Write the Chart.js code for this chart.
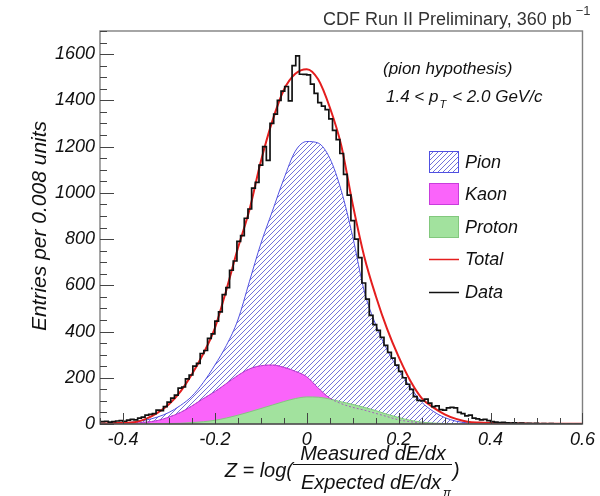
<!DOCTYPE html>
<html><head><meta charset="utf-8">
<script src="https://cdn.jsdelivr.net/npm/chart.js@4.4.0/dist/chart.umd.min.js"></script>
<style>html,body{margin:0;padding:0;background:#fff;}</style>
</head><body>
<canvas id="c" width="600" height="496"></canvas>
<script>
// ---- model curves (sampled every 0.025 in Z) ----
const modelX = [-0.45,-0.425,-0.4,-0.375,-0.35,-0.325,-0.3,-0.275,-0.25,-0.225,-0.2,-0.175,-0.15,-0.125,-0.1,-0.075,-0.05,-0.025,0,0.025,0.05,0.075,0.1,0.125,0.15,0.175,0.2,0.225,0.25,0.275,0.3,0.325,0.35,0.375,0.4,0.425,0.45,0.475,0.5,0.525,0.55,0.575,0.6];
const pionCurve = [1,2,4,9,17,30,50,80,120,180,255,340,450,615,780,920,1060,1180,1222,1215,1150,1010,810,575,430,320,235,160,95,55,28,12,5,2,1,0,0,0,0,0,0,0,0];
const kaonCurve = [0,1,2,4,8,15,30,50,78,110,140,175,210,238,252,255,245,228,204,155,112,88,72,60,46,32,18,10,4,1,0,0,0,0,0,0,0,0,0,0,0,0,0];
const protonCurve = [0,0,0,0,0,1,2,3,6,10,16,26,38,52,67,82,97,110,117,116,108,96,85,72,58,42,28,16,8,4,2,1,0,0,0,0,0,0,0,0,0,0,0];
const totalCurve = [2,3,5,8,22,48,85,140,215,305,415,580,760,925,1135,1310,1445,1515,1535,1490,1370,1205,950,725,555,410,290,188,112,72,42,22,10,6,4,3,2,2,1,1,1,1,1];

// ---- data histogram (bin width 0.008) ----
const binStart = -0.448;
const binWidth = 0.008;
const dataCounts = [
 10,12,8,10,13,15,12,17,20,18,
 25,30,38,42,45,60,58,75,95,112,
 125,155,160,195,212,250,262,305,318,370,
 390,445,485,560,590,665,705,790,815,890,
 930,1020,1045,1120,1200,1140,1300,1340,1400,1440,
 1460,1398,1550,1592,1513,1512,1510,1470,1430,1390,
 1375,1360,1320,1270,1230,1170,1080,990,880,800,
 720,610,540,470,430,405,375,340,310,285,
 255,228,200,172,150,118,102,100,108,90,
 75,78,62,60,70,72,70,50,45,35,
 38,25,22,18,20,15,10,8,6,7,
 5,4,5,3,4,2,3,2,3,1,
 2,1,2,1,1,1,0,1,0,1,0];

// ---- axes ----
const xTickValues = [-0.4,-0.2,0,0.2,0.4,0.6];
const yTickValues = [0,200,400,600,800,1000,1200,1400,1600];
const xMinorStep = 0.05;
const yMinorStep = 50;
const legendNames = ['Pion','Kaon','Proton','Total','Data'];

const FONT = '"Liberation Sans", Arial, Helvetica, sans-serif';

function hatchPattern(){
  const s = 5, c = document.createElement('canvas');
  c.width = s; c.height = s;
  const g = c.getContext('2d');
  g.fillStyle = '#ffffff'; g.fillRect(0,0,s,s);
  g.strokeStyle = 'rgba(70,70,205,0.85)'; g.lineWidth = 0.9;
  g.beginPath();
  g.moveTo(0,s); g.lineTo(s,0);
  g.moveTo(-1,1); g.lineTo(1,-1);
  g.moveTo(s-1,s+1); g.lineTo(s+1,s-1);
  g.stroke();
  return g.createPattern(c,'repeat');
}
const hatch = hatchPattern();
const kaonColor = 'rgb(250,100,250)';
const protonColor = 'rgb(162,226,158)';

const pts = (xs, ys) => xs.map((x,i) => ({x: x, y: ys[i]}));
const histPts = dataCounts.map((c,i) => ({x: binStart + i*binWidth, y: c}));
histPts.push({x: binStart + dataCounts.length*binWidth, y: dataCounts[dataCounts.length-1]});

const decor = {
  id: 'decor',
  afterDatasetsDraw(chart){
    const ctx = chart.ctx, a = chart.chartArea, xs = chart.scales.x, ys = chart.scales.y;
    ctx.save();
    // frame
    ctx.strokeStyle = '#808080'; ctx.lineWidth = 1.4;
    ctx.strokeRect(a.left, a.top, a.right - a.left, a.bottom - a.top);
    ctx.strokeStyle = '#333'; ctx.lineWidth = 1.2;
    ctx.beginPath(); ctx.moveTo(a.left, a.bottom); ctx.lineTo(a.right, a.bottom); ctx.stroke();
    // inner ticks
    ctx.strokeStyle = '#444'; ctx.lineWidth = 1;
    for (let k = Math.ceil(xs.min / xMinorStep - 1e-6); k * xMinorStep <= xs.max + 1e-9; k++){
      const v = k * xMinorStep;
      const major = xTickValues.some(t => Math.abs(t - v) < 1e-6);
      const px = Math.round(xs.getPixelForValue(v)) + 0.5;
      ctx.beginPath(); ctx.moveTo(px, a.bottom); ctx.lineTo(px, a.bottom - (major ? 11 : 6)); ctx.stroke();
    }
    for (let v = 0; v <= ys.max; v += yMinorStep){
      const major = yTickValues.includes(v);
      const py = Math.round(ys.getPixelForValue(v)) + 0.5;
      ctx.beginPath(); ctx.moveTo(a.left, py); ctx.lineTo(a.left + (major ? 14 : 7), py); ctx.stroke();
    }
    // title
    ctx.fillStyle = '#333'; ctx.textBaseline = 'alphabetic'; ctx.textAlign = 'left';
    ctx.font = '18px ' + FONT;
    const t1 = 'CDF Run II Preliminary, 360 pb';
    ctx.fillText(t1, 323, 25);
    const w1 = ctx.measureText(t1).width;
    ctx.font = '13px ' + FONT;
    ctx.fillText('\u22121', 323 + w1 + 4, 15);
    // annotations
    ctx.fillStyle = '#111';
    ctx.font = 'italic 17px ' + FONT;
    ctx.fillText('(pion hypothesis)', 383, 74);
    let xx = 386;
    const s1 = '1.4 < p';
    ctx.fillText(s1, xx, 102); xx += ctx.measureText(s1).width;
    ctx.font = 'italic 11px ' + FONT;
    ctx.fillText('T', xx + 1, 108); xx += 9;
    ctx.font = 'italic 17px ' + FONT;
    ctx.fillText(' < 2.0 GeV/c', xx, 102);
    // legend
    const ds = chart.data.datasets;
    const rows = [162, 194, 227, 259, 292];
    ctx.font = 'italic 18px ' + FONT; ctx.textBaseline = 'middle';
    legendNames.forEach((name, i) => {
      const cy = rows[i];
      const d = ds.find(q => q.label === name);
      if (i < 3){
        ctx.fillStyle = d.backgroundColor;
        ctx.fillRect(429, cy - 11, 30, 22);
        ctx.strokeStyle = d.borderColor; ctx.lineWidth = 1; ctx.setLineDash([]);
        ctx.strokeRect(429.5, cy - 10.5, 29, 21);
      } else {
        ctx.strokeStyle = d.borderColor; ctx.lineWidth = 1.5; ctx.setLineDash([]);
        ctx.beginPath(); ctx.moveTo(429, cy + 0.5); ctx.lineTo(459, cy + 0.5); ctx.stroke();
      }
      ctx.fillStyle = '#111';
      ctx.fillText(name, 465, cy + 1);
    });
    // y title
    ctx.save();
    ctx.translate(40, 226); ctx.rotate(-Math.PI/2);
    ctx.textAlign = 'center'; ctx.textBaseline = 'middle';
    ctx.font = 'italic 21px ' + FONT; ctx.fillStyle = '#111';
    ctx.fillText('Entries per 0.008 units', 0, 0);
    ctx.restore();
    // x title
    ctx.fillStyle = '#111'; ctx.textBaseline = 'alphabetic'; ctx.textAlign = 'left';
    ctx.font = 'italic 20px ' + FONT;
    const zt = 'Z = log(';
    const zw = ctx.measureText(zt).width;
    ctx.fillText(zt, 293 - zw, 477);
    ctx.textAlign = 'center';
    ctx.fillText('Measured dE/dx', 373, 460);
    ctx.fillText('Expected dE/dx', 371, 489);
    ctx.strokeStyle = '#111'; ctx.lineWidth = 1.2;
    ctx.beginPath(); ctx.moveTo(293, 464.5); ctx.lineTo(452, 464.5); ctx.stroke();
    ctx.font = 'italic 12px ' + FONT; ctx.textAlign = 'left';
    ctx.fillText('\u03c0', 443, 497);
    ctx.font = 'italic 20px ' + FONT;
    ctx.fillText(')', 453, 477);
    ctx.restore();
  }
};

new Chart(document.getElementById('c'), {
  type: 'line',
  data: {
    datasets: [
      {label: 'Data', data: histPts, stepped: true, borderColor: '#111', borderWidth: 1.7, pointRadius: 0, fill: false, order: 0},
      {label: 'Total', data: pts(modelX, totalCurve), borderColor: 'rgb(228,30,30)', borderWidth: 2, pointRadius: 0, fill: false, cubicInterpolationMode: 'monotone', order: 1},
      {label: 'KaonLine', data: pts(modelX, kaonCurve), borderColor: 'rgba(160,70,190,0.8)', borderWidth: 1, borderDash: [2,2], pointRadius: 0, fill: false, cubicInterpolationMode: 'monotone', order: 2},
      {label: 'Proton', data: pts(modelX, protonCurve), borderColor: 'rgb(130,200,125)', backgroundColor: protonColor, borderWidth: 1, pointRadius: 0, fill: 'origin', cubicInterpolationMode: 'monotone', order: 3},
      {label: 'Kaon', data: pts(modelX, kaonCurve), borderColor: 'rgb(200,60,220)', backgroundColor: kaonColor, borderWidth: 1, pointRadius: 0, fill: 'origin', cubicInterpolationMode: 'monotone', order: 4},
      {label: 'Pion', data: pts(modelX, pionCurve), borderColor: 'rgb(80,80,225)', backgroundColor: hatch, borderWidth: 1, pointRadius: 0, fill: 'origin', cubicInterpolationMode: 'monotone', order: 5}
    ]
  },
  options: {
    responsive: false, animation: false, devicePixelRatio: 1,
    layout: {padding: {left: 0, right: 16, top: 31, bottom: 0}},
    plugins: {legend: {display: false}, tooltip: {enabled: false}},
    scales: {
      x: {
        type: 'linear', min: -0.45, max: 0.6,
        grid: {display: false, drawTicks: false}, border: {display: false},
        afterBuildTicks: s => { s.ticks = xTickValues.map(v => ({value: v})); },
        afterFit: s => { s.height = 72; },
        ticks: {autoSkip: false, maxRotation: 0, padding: 5, color: '#111',
          font: {family: FONT, size: 18, style: 'italic'},
          callback: v => (Math.abs(v) < 1e-9 ? '0' : (Math.round(v*10)/10).toFixed(1))}
      },
      y: {
        type: 'linear', min: 0, max: 1700,
        grid: {display: false, drawTicks: false}, border: {display: false},
        afterBuildTicks: s => { s.ticks = yTickValues.map(v => ({value: v})); },
        afterFit: s => { s.width = 100; },
        ticks: {autoSkip: false, padding: 5, color: '#111',
          font: {family: FONT, size: 18, style: 'italic'},
          callback: v => String(v)}
      }
    }
  },
  plugins: [decor]
});
</script>
</body></html>
